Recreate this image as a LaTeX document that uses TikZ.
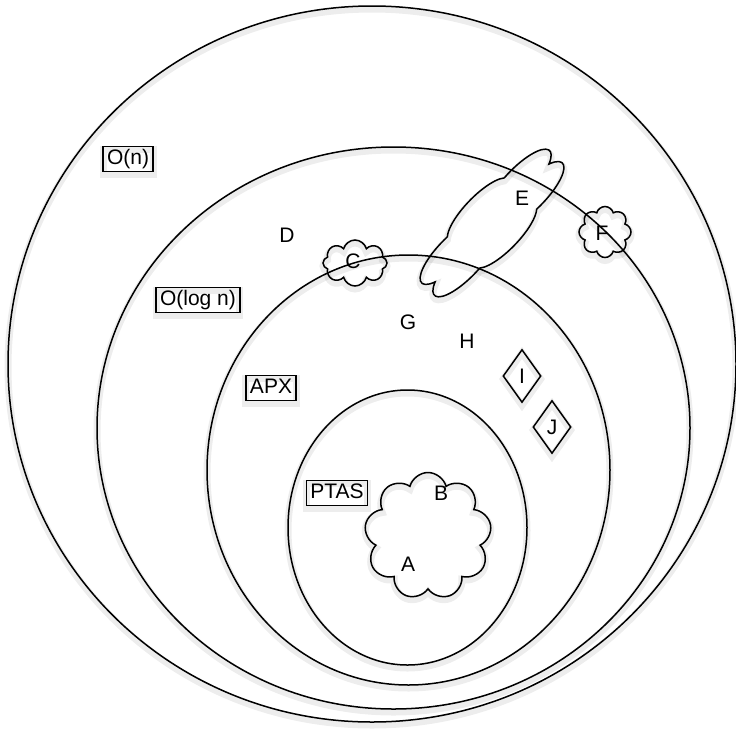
\documentclass[tikz,border=0pt]{standalone}
\usepackage{fontspec}
\setmainfont{Liberation Sans}
\usetikzlibrary{shapes.symbols,shapes.geometric}

\begin{document}
\begin{tikzpicture}[x=1pt,y=-1pt,line width=1.5pt,
    every node/.style={font=\fontsize{21}{24}\selectfont},
    soft/.style={preaction={draw=black,opacity=0.07,line width=7pt,transform canvas={yshift=-3pt}}},
    classbox/.style={draw,soft,line width=1.2pt,inner xsep=4pt,inner ysep=3pt,text height=15pt,text depth=4pt},
    blob/.style={draw,soft,cloud,cloud puffs=#1,cloud ignores aspect,inner sep=0pt},
    gem/.style={draw,soft,diamond,minimum width=38pt,minimum height=53pt,inner sep=0pt}]
  \useasboundingbox (0,0) rectangle (736,729);
  % nested classes
  \draw[soft] (372,364) ellipse [x radius=364pt, y radius=358pt];
  \draw[soft] (393.5,428) ellipse [x radius=296.5pt, y radius=281pt];
  \draw[soft] (408.5,470) ellipse [x radius=201.5pt, y radius=215pt];
  \draw[soft] (407.5,527.5) ellipse [x radius=119.5pt, y radius=137.5pt];
  \node[classbox] (on) at (128,159) {O(n)};
  \node[classbox] (ologn) at (198,300) {O(log n)};
  \node[classbox] (apx) at (271,388) {APX};
  \node[classbox] (ptas) at (337,493) {PTAS};
  % problems
  \begin{scope}[shift={(492,223)},y=1pt,rotate=46,xscale=3.15]
    \draw[soft] (0:26) \foreach \k in {0,...,5} {
        arc[start angle=60*\k-40, end angle=60*\k+100, radius=13.83]} -- cycle;
  \end{scope}
  \node[blob=8, minimum width=64pt, minimum height=46pt] (cloudC) at (355,263) {};
  \node[blob=8, minimum width=52pt, minimum height=51pt] (cloudF) at (605,232) {};
  \node[blob=9, minimum width=127pt, minimum height=127pt] (cloudAB) at (428,536) {};
  \node[gem] (I) at (522,376) {I};
  \node[gem] (J) at (552,427) {J};
  \node (A) at (408,564) {A};
  \node (B) at (441,493) {B};
  \node (C) at (353,261) {C};
  \node (D) at (287,235) {D};
  \node (E) at (522,198) {E};
  \node (F) at (602,233) {F};
  \node (G) at (408,322) {G};
  \node (H) at (467,341) {H};
\end{tikzpicture}
\end{document}
